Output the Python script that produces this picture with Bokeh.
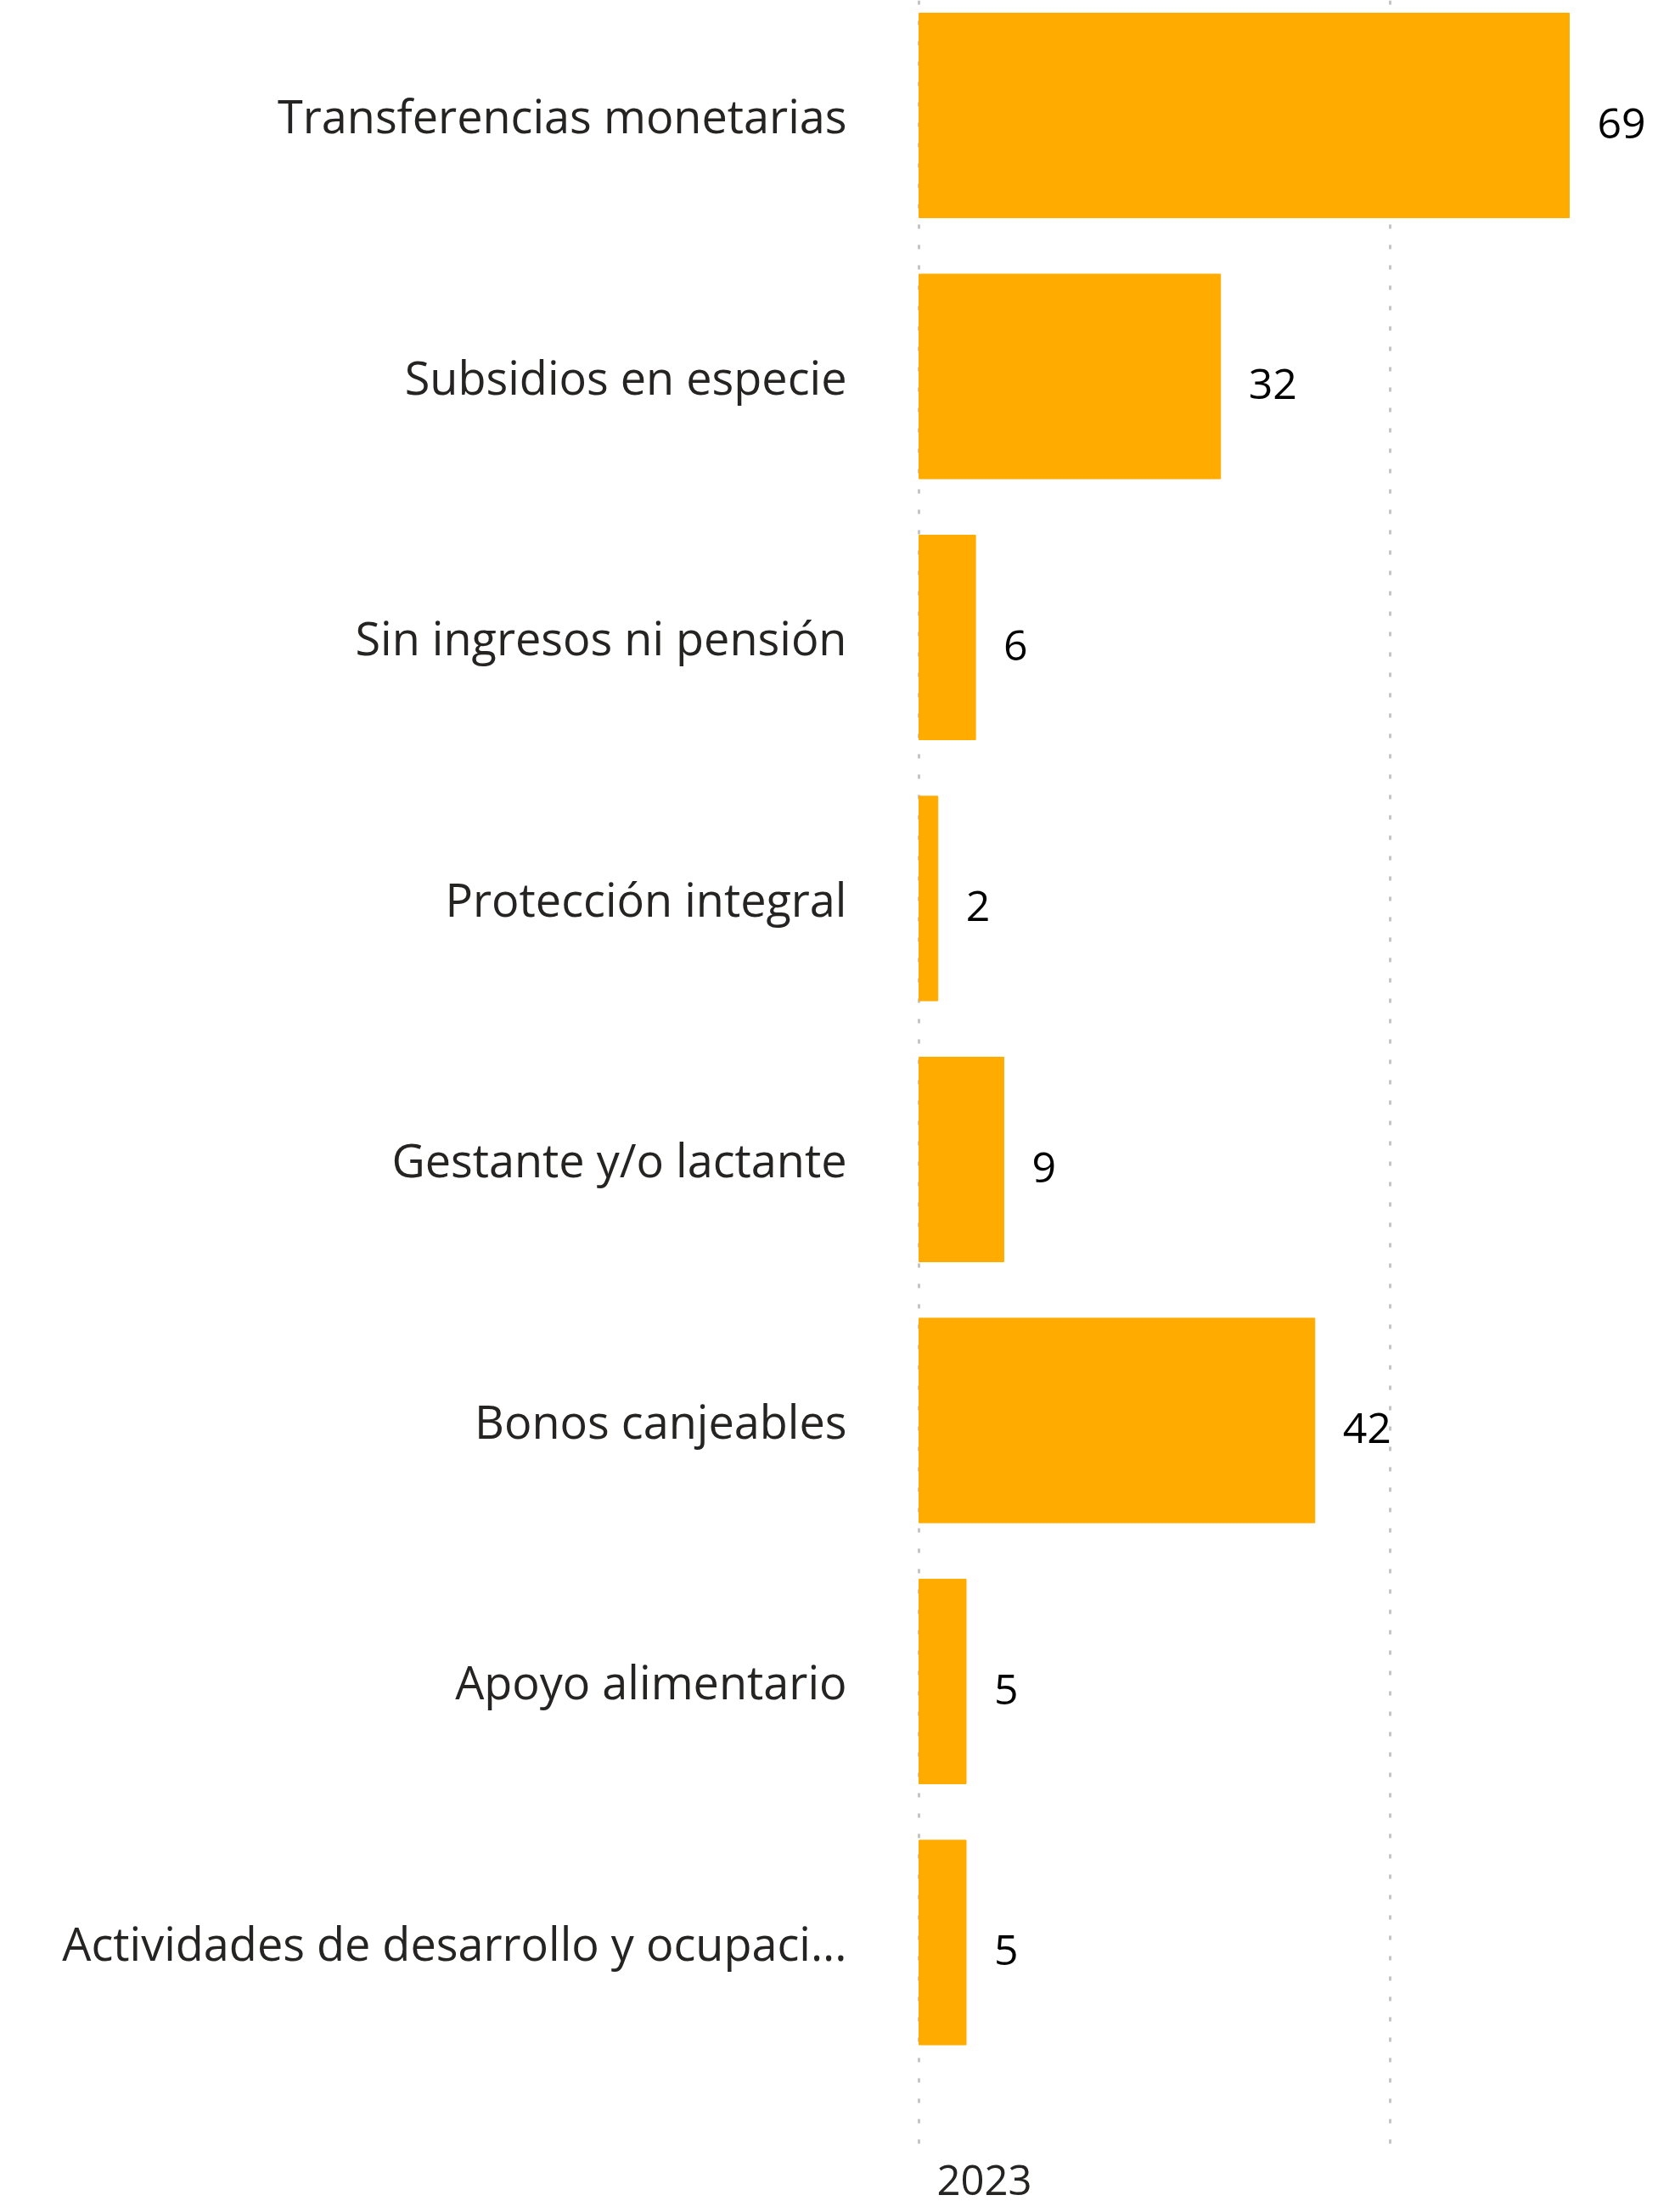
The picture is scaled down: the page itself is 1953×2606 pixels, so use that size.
from bokeh.plotting import figure
from bokeh.models import ColumnDataSource, Range1d, FixedTicker, Title
from bokeh.core.properties import value
from bokeh.embed import file_html
from bokeh.resources import INLINE

categories = [
    "Transferencias monetarias",
    "Subsidios en especie",
    "Sin ingresos ni pensión",
    "Protección integral",
    "Gestante y/o lactante",
    "Bonos canjeables",
    "Apoyo alimentario",
    "Actividades de desarrollo y ocupaci...",
]
values = [69, 32, 6, 2, 9, 42, 5, 5]
x_gridlines = [0, 50]
axis_title = "2023"

idx = list(range(len(categories)))
src = ColumnDataSource(dict(y=idx, v=values, lbl=[str(v) for v in values]))

FONT = "Open Sans"
W, H = 1950, 2600
LEFT = 1079
px_per_unit = 11.101
x_start = -3.0 / px_per_unit
x_end = x_start + (W - LEFT) / px_per_unit
band = 307.5
top_center = 135.5
frame_h = 2540
y_top = -top_center / band
y_bot = (frame_h - top_center) / band

p = figure(width=W, height=H, output_backend="svg", toolbar_location=None,
           x_range=Range1d(x_start, x_end), y_range=Range1d(y_bot, y_top),
           min_border_left=LEFT, min_border_right=0, min_border_top=0,
           min_border_bottom=H - frame_h)
p.outline_line_color = None
p.background_fill_color = "white"
p.border_fill_color = "white"

p.hbar(y="y", left=0, right="v", height=0.784, color="#FFAB00", source=src)
p.text(x="v", y="y", text="lbl", source=src, x_offset=33, y_offset=9,
       text_baseline="middle", text_align="left", text_color="#000000",
       text_font=value(FONT), text_font_size="50px")

p.xaxis.ticker = FixedTicker(ticks=x_gridlines)
p.xaxis.visible = False
p.xgrid.grid_line_color = "#c4c4c4"
p.xgrid.grid_line_width = 3
p.xgrid.grid_line_dash = "5 19"
p.xgrid.level = "underlay"
p.ygrid.grid_line_color = None

yax = p.yaxis[0]
yax.ticker = FixedTicker(ticks=idx)
yax.major_label_overrides = {i: c for i, c in zip(idx, categories)}
yax.axis_line_color = None
yax.major_tick_line_color = None
yax.minor_tick_line_color = None
yax.major_tick_out = 0
yax.major_tick_in = 0
yax.major_label_standoff = 82
yax.major_label_text_font = FONT
yax.major_label_text_font_size = "54px"
yax.major_label_text_color = "#252423"

p.add_layout(Title(text=axis_title, align="left", offset=24, standoff=16,
                   text_font=FONT, text_font_size="49px", text_font_style="normal",
                   text_color="#252423"), "below")

open("out.html", "w").write(file_html(p, INLINE))
